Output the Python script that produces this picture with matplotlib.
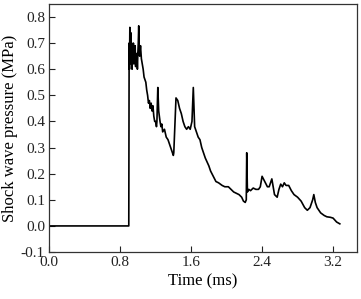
""" shock wave pressure history recorded at the gauge """

import matplotlib
matplotlib.use("Agg")
import matplotlib.pyplot as plt

# time (ms) and pressure (MPa)
time_ms = [0.0, 0.898, 0.902, 0.906, 0.910, 0.915, 0.920, 0.925, 0.930,
           0.935, 0.940, 0.945, 0.950, 0.955, 0.960, 0.965, 0.970, 0.975,
           0.980, 0.985, 0.990, 0.995, 1.000, 1.005, 1.010, 1.015, 1.020,
           1.030, 1.040, 1.050, 1.060, 1.070, 1.080, 1.090, 1.100, 1.110,
           1.120, 1.130, 1.140, 1.150, 1.160, 1.170, 1.180, 1.190, 1.200,
           1.210, 1.215, 1.225, 1.235, 1.250, 1.260, 1.270, 1.280, 1.300,
           1.320, 1.340, 1.360, 1.380, 1.400, 1.405, 1.430, 1.450, 1.470,
           1.490, 1.510, 1.530, 1.550, 1.570, 1.590, 1.610, 1.625, 1.640,
           1.660, 1.680, 1.700, 1.720, 1.740, 1.760, 1.780, 1.800, 1.820,
           1.850, 1.880, 1.910, 1.950, 1.980, 2.020, 2.050, 2.080, 2.110,
           2.140, 2.170, 2.190, 2.210, 2.222, 2.227, 2.235, 2.250, 2.270,
           2.300, 2.330, 2.360, 2.380, 2.400, 2.430, 2.460, 2.480, 2.510,
           2.540, 2.570, 2.590, 2.610, 2.630, 2.650, 2.670, 2.700, 2.730,
           2.760, 2.800, 2.840, 2.880, 2.910, 2.940, 2.970, 2.983, 3.000,
           3.020, 3.060, 3.100, 3.130, 3.170, 3.200, 3.240, 3.276]
pressure = [0.0, 0.0, 0.70, 0.60, 0.76, 0.65, 0.74, 0.62, 0.70,
            0.60, 0.68, 0.63, 0.70, 0.62, 0.67, 0.64, 0.69, 0.61,
            0.66, 0.63, 0.66, 0.60, 0.66, 0.70, 0.766, 0.68, 0.65,
            0.69, 0.64, 0.62, 0.60, 0.57, 0.56, 0.55, 0.52, 0.50,
            0.47, 0.48, 0.45, 0.47, 0.44, 0.46, 0.42, 0.40, 0.40,
            0.38, 0.40, 0.53, 0.44, 0.40, 0.38, 0.39, 0.36, 0.37,
            0.34, 0.33, 0.31, 0.29, 0.27, 0.28, 0.49, 0.48, 0.45,
            0.43, 0.40, 0.38, 0.37, 0.38, 0.37, 0.40, 0.53, 0.38,
            0.36, 0.34, 0.33, 0.30, 0.28, 0.26, 0.245, 0.23, 0.21,
            0.19, 0.17, 0.165, 0.155, 0.15, 0.15, 0.14, 0.13, 0.125,
            0.12, 0.11, 0.095, 0.09, 0.10, 0.28, 0.13, 0.14, 0.135,
            0.145, 0.14, 0.14, 0.15, 0.19, 0.17, 0.15, 0.15, 0.18,
            0.12, 0.11, 0.14, 0.16, 0.15, 0.165, 0.155, 0.155, 0.135,
            0.12, 0.11, 0.095, 0.07, 0.06, 0.07, 0.10, 0.12, 0.09,
            0.07, 0.05, 0.04, 0.035, 0.033, 0.03, 0.015, 0.008]

x_ticks = [0.0, 0.8, 1.6, 2.4, 3.2]
y_ticks = [-0.1, 0.0, 0.1, 0.2, 0.3, 0.4, 0.5, 0.6, 0.7, 0.8]

plt.rcParams['font.family'] = ['Liberation Serif', 'DejaVu Serif']

fig = plt.figure(figsize=(3.61, 2.99), dpi=100)
ax = fig.add_axes([0.136, 0.157, 0.853, 0.830])

ax.plot(time_ms, pressure, color='black', linewidth=1.2)

ax.set_xlim(0, 3.47)
ax.set_ylim(-0.1, 0.85)
ax.set_xticks(x_ticks)
ax.set_xticklabels([f"{v:.1f}" for v in x_ticks])
ax.set_yticks(y_ticks)
ax.set_yticklabels([f"{v:.1f}" for v in y_ticks])
ax.tick_params(direction='in', length=4, width=0.8, labelsize=11,
               colors='#222222', pad=3)

for side in ax.spines.values():
    side.set_linewidth(0.9)
    side.set_color('#333333')

ax.set_xlabel("Time (ms)", fontsize=12, labelpad=3)
ax.set_ylabel("Shock wave pressure (MPa)", fontsize=12, labelpad=2)

fig.savefig("out.png", dpi=100)
